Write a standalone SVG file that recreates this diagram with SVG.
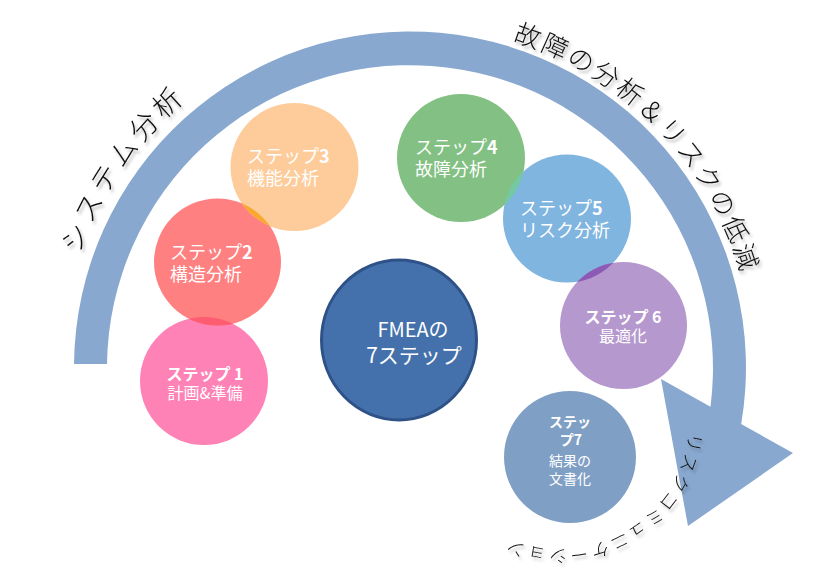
<svg xmlns="http://www.w3.org/2000/svg" width="836" height="573" viewBox="0 0 836 573">
<style>
.t{font-family:"Noto Sans CJK JP","Liberation Sans",sans-serif;fill:#ffffff}
.s18{font-size:18px}
.s16{font-size:16px}
.s14{font-size:14px}
.b{font-weight:bold}
.arcT{font-family:"Noto Sans CJK JP","Liberation Sans",sans-serif;fill:#111111;font-weight:300}
</style>
<defs>
<filter id="sh" x="-20%" y="-20%" width="140%" height="140%">
<feDropShadow dx="2" dy="3" stdDeviation="1.8" flood-color="#000000" flood-opacity="0.3"/>
</filter>
<clipPath id="k1"><circle cx="204" cy="381" r="64"/></clipPath>
<clipPath id="k3"><circle cx="294.5" cy="167" r="64"/></clipPath>
<clipPath id="k5"><circle cx="567" cy="218.5" r="64"/></clipPath>
<path id="pL" d="M 79.9,254.4 A 350 350 0 0 1 349.1,23.3" fill="none"/>
<path id="pR" d="M 512.5,40.5 A 344 344 0 0 1 749.8,427.9" fill="none"/>
<path id="pB" d="M 689.2,432.5 A 131 131 0 0 1 475.2,519.1" fill="none"/>
</defs>
<rect width="836" height="573" fill="#ffffff"/>
<g id="connectors">
<path id="bigArrow" d="M 74,364 A 336 336 0 1 1 741.2,424 L 793,453 L 688,526 L 661,379 L 710.5,406.8 A 303 303 0 1 0 107,364 Z" fill="#89A8CF"/>
</g>
<g id="step1"><circle cx="204" cy="381" r="64" fill="#FF82B6"/>
<text class="t s16 b" x="205" y="380" text-anchor="middle">ステップ 1</text>
<text class="t s16" x="205" y="399" text-anchor="middle">計画&amp;準備</text></g>
<g id="step2"><circle cx="217.5" cy="262" r="63.5" fill="#FF8080"/>
<circle cx="217.5" cy="262" r="63.5" fill="#FE5C70" clip-path="url(#k1)"/>
<text class="t s18" x="170" y="259">ステップ<tspan class="b">2</tspan></text>
<text class="t s18" x="170" y="281">構造分析</text></g>
<g id="step3"><circle cx="294.5" cy="167" r="64" fill="#FECC9A"/>
<circle cx="217.5" cy="262" r="63.5" fill="#F9A92F" clip-path="url(#k3)"/>
<text class="t s18" x="247" y="163">ステップ<tspan class="b">3</tspan></text>
<text class="t s18" x="247" y="185">機能分析</text></g>
<g id="step4"><circle cx="461" cy="158" r="64" fill="#83C083"/>
<text class="t s18" x="415" y="154">ステップ<tspan class="b">4</tspan></text>
<text class="t s18" x="415" y="176">故障分析</text></g>
<g id="step5"><circle cx="567" cy="218.5" r="64" fill="#7FB5DF"/>
<circle cx="461" cy="158" r="64" fill="#74C9A3" clip-path="url(#k5)"/>
<text class="t s18" x="520" y="215">ステップ<tspan class="b">5</tspan></text>
<text class="t s18" x="520" y="237">リスク分析</text></g>
<g id="step6"><circle cx="623.5" cy="325.5" r="63.5" fill="#B598CE"/>
<circle cx="623.5" cy="325.5" r="63.5" fill="#8C5AB4" clip-path="url(#k5)"/>
<text class="t s16 b" x="623" y="323" text-anchor="middle">ステップ 6</text>
<text class="t s16" x="623" y="342" text-anchor="middle">最適化</text></g>
<g id="step7"><circle cx="570" cy="457" r="66" fill="#809FC5"/>
<text class="t s14 b" x="570" y="427" text-anchor="middle">ステッ</text>
<text class="t s14 b" x="571" y="445" text-anchor="middle">プ7</text>
<text class="t s14" x="570" y="466" text-anchor="middle">結果の</text>
<text class="t s14" x="570" y="484" text-anchor="middle">文書化</text></g>
<g id="fmea"><ellipse cx="399" cy="340" rx="77.5" ry="80" fill="#4471AB" stroke="#2E5288" stroke-width="3"/>
<text class="t" x="413" y="337" text-anchor="middle" font-size="20" fill="#F2F2F2">FMEAの</text>
<text class="t" x="414" y="363" text-anchor="middle" font-size="21" fill="#F2F2F2">7ステップ</text></g>
<g id="labels" filter="url(#sh)">
<text class="arcT" font-size="28" letter-spacing="4.1"><textPath href="#pL">システム分析</textPath></text>
<text class="arcT" font-size="26" letter-spacing="2.4"><textPath href="#pR">故障の分析＆リスクの低減</textPath></text>
<text class="arcT" font-size="18" letter-spacing="2.4"><textPath href="#pB">リスクコミュニケーション</textPath></text>
</g>
</svg>
